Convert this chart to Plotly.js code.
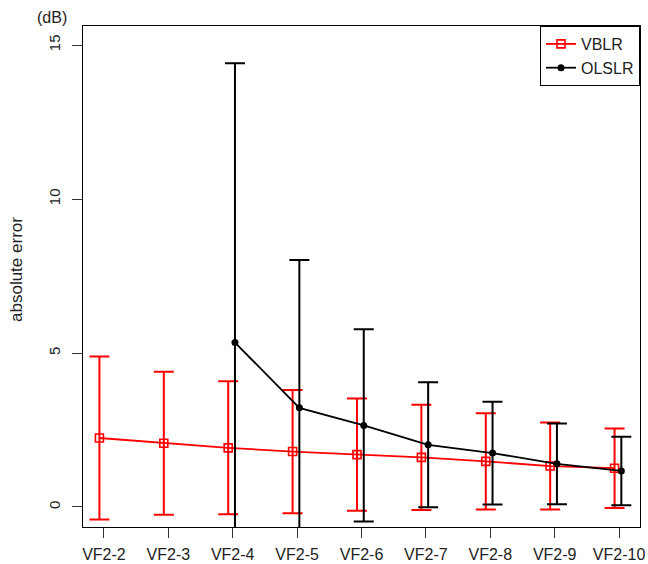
<!DOCTYPE html>
<html>
<head>
<meta charset="utf-8">
<script src="https://cdn.plot.ly/plotly-3.0.1.min.js"></script>
<style>html,body{margin:0;padding:0;background:#fff;}#chart{width:648px;height:564px;}</style>
</head>
<body>
<div id="chart"></div>
<script>
var categories = ["VF2-2","VF2-3","VF2-4","VF2-5","VF2-6","VF2-7","VF2-8","VF2-9","VF2-10"];
var vblrMean = [2.24, 2.07, 1.92, 1.80, 1.70, 1.61, 1.48, 1.33, 1.26];
var vblrSd   = [2.65, 2.32, 2.16, 2.00, 1.82, 1.71, 1.56, 1.41, 1.29];
var olslrMean = [null, null, 5.34, 3.22, 2.65, 2.02, 1.75, 1.40, 1.17];
var olslrSd   = [null, null, 9.07, 4.80, 3.12, 2.03, 1.67, 1.31, 1.11];
var yTicks = [0, 5, 10, 15];

var idx = categories.map(function(_, i){ return i + 1; });
var xRed = idx.map(function(v){ return v - 0.07; });
var xBlack = idx.map(function(v){ return v + 0.035; });

var font = "Liberation Sans, Arial, sans-serif";

var traces = [
  {
    x: xRed, y: vblrMean, name: "VBLR", type: "scatter", mode: "lines+markers",
    line: {color: "#ff0000", width: 1.8},
    marker: {symbol: "square-open", size: 8, color: "#ff0000", line: {color: "#ff0000", width: 1.6}},
    error_y: {type: "data", array: vblrSd, symmetric: true, visible: true, color: "#ff0000", thickness: 2, width: 10}
  },
  {
    x: xBlack, y: olslrMean, name: "OLSLR", type: "scatter", mode: "lines+markers",
    line: {color: "#000000", width: 1.8},
    marker: {symbol: "circle", size: 7, color: "#000000"},
    error_y: {type: "data", array: olslrSd, symmetric: true, visible: true, color: "#000000", thickness: 2, width: 10}
  }
];

var layout = {
  width: 648, height: 564,
  margin: {l: 83, r: 8, t: 26, b: 37, pad: 0},
  paper_bgcolor: "#fff", plot_bgcolor: "#fff",
  font: {family: font, size: 16, color: "#222"},
  showlegend: true,
  legend: {
    x: 1, xanchor: "right", y: 1, yanchor: "top",
    bgcolor: "#fff", bordercolor: "#000", borderwidth: 1,
    font: {family: font, size: 16, color: "#222"},
    tracegroupgap: 0
  },
  xaxis: {
    range: [0.675, 9.325],
    tickmode: "array", tickvals: idx, ticktext: categories,
    ticks: "outside", ticklen: 10, tickcolor: "#333", tickwidth: 1,
    ticklabelstandoff: 3,
    showgrid: false, zeroline: false,
    showline: true, mirror: true, linecolor: "#000", linewidth: 1,
    tickfont: {family: font, size: 16, color: "#222"}
  },
  yaxis: {
    range: [-0.65, 15.62],
    tickmode: "array", tickvals: yTicks, ticktext: yTicks.map(String),
    tickangle: -90,
    ticks: "outside", ticklen: 10, tickcolor: "#333", tickwidth: 1,
    ticklabelstandoff: 6,
    showgrid: false, zeroline: false,
    showline: true, mirror: true, linecolor: "#000", linewidth: 1,
    tickfont: {family: font, size: 15, color: "#222"}
  },
  annotations: [
    {text: "(dB)", xref: "paper", yref: "paper", x: -0.056, y: 1.016, xanchor: "center", yanchor: "middle",
     showarrow: false, font: {family: font, size: 16, color: "#222"}},
    {text: "absolute error", xref: "paper", yref: "paper", x: -0.1185, y: 0.515, xanchor: "center", yanchor: "middle",
     textangle: -90, showarrow: false, font: {family: font, size: 17, color: "#222"}}
  ]
};

Plotly.newPlot("chart", traces, layout, {displayModeBar: false, staticPlot: true});
</script>
</body>
</html>
